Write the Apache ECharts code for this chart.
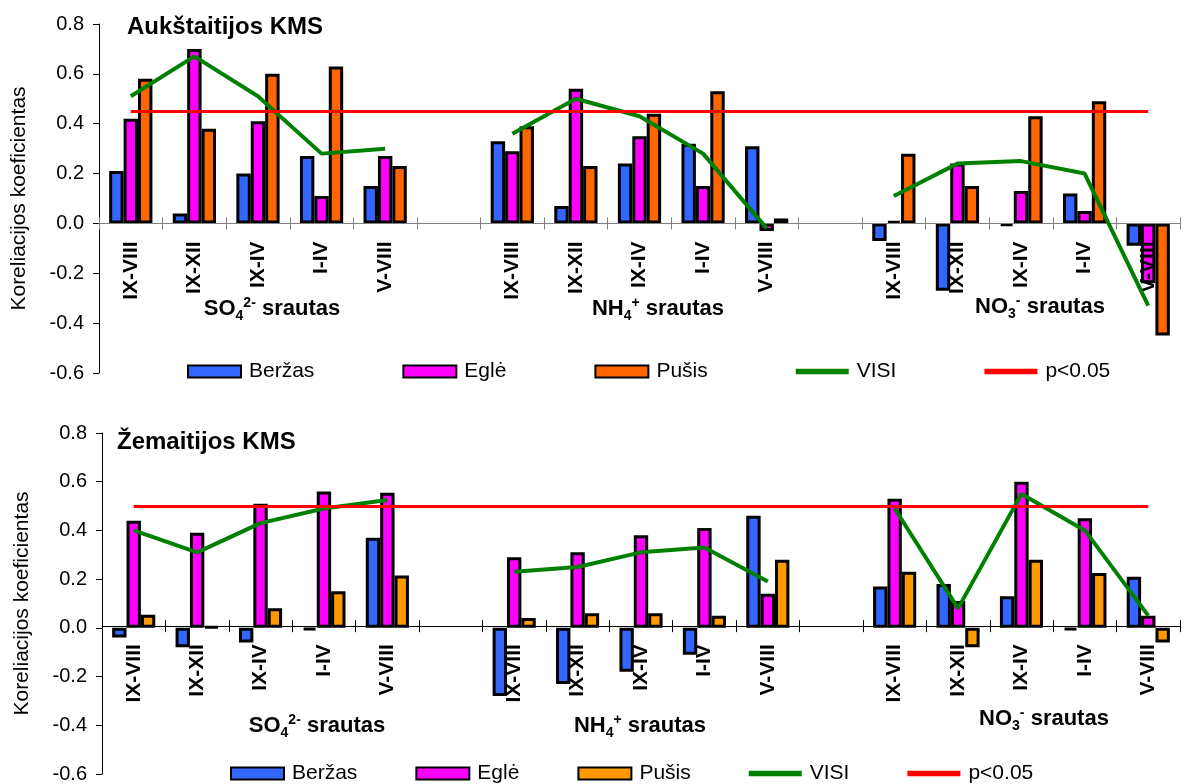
<!DOCTYPE html>
<html>
<head>
<meta charset="utf-8">
<script src="https://cdn.jsdelivr.net/npm/echarts@6/dist/echarts.min.js"></script>
<style>
html,body{margin:0;padding:0;background:#fff;}
#chart{width:1185px;height:784px;}
</style>
</head>
<body>
<div id="chart"></div>
<script>
// ---- data ----
const periods = ['IX-VIII', 'IX-XII', 'IX-IV', 'I-IV', 'V-VIII'];
const yTicks = [-0.6, -0.4, -0.2, 0.0, 0.2, 0.4, 0.6, 0.8];

// Aukštaitijos KMS (SO4 | NH4 | NO3), 5 periods each
const aukBerzas = [0.21, 0.04, 0.20, 0.27, 0.15,   0.33, 0.07, 0.24, 0.32, 0.31,   -0.07, -0.27, -0.01, 0.12, -0.09];
const aukEgle   = [0.42, 0.70, 0.41, 0.11, 0.27,   0.29, 0.54, 0.35, 0.15, -0.03,  0.01, 0.24, 0.13, 0.05, -0.24];
const aukPusis  = [0.58, 0.38, 0.60, 0.63, 0.23,   0.39, 0.23, 0.44, 0.53, 0.02,   0.28, 0.15, 0.43, 0.49, -0.45];
const aukVisi   = [0.51, 0.67, 0.51, 0.28, 0.30,   0.36, 0.50, 0.43, 0.28, -0.02,  0.11, 0.24, 0.25, 0.20, -0.33];
const aukP = 0.45;

// Žemaitijos KMS
const zemBerzas = [-0.04, -0.08, -0.06, -0.01, 0.37,  -0.28, -0.23, -0.18, -0.11, 0.46,  0.17, 0.18, 0.13, -0.01, 0.21];
const zemEgle   = [0.44, 0.39, 0.51, 0.56, 0.555,     0.29, 0.31, 0.38, 0.41, 0.14,      0.53, 0.11, 0.60, 0.45, 0.05];
const zemPusis  = [0.054, 0.005, 0.08, 0.15, 0.215,   0.04, 0.06, 0.06, 0.05, 0.28,      0.23, -0.08, 0.28, 0.225, -0.06];
const zemVisi   = [0.40, 0.31, 0.43, 0.49, 0.525,     0.23, 0.25, 0.31, 0.33, 0.19,      0.49, 0.08, 0.55, 0.40, 0.05];
const zemP = 0.50;

// ---- helpers: 3 groups of 5 with one empty slot between groups ----
function spread(arr) {
  return [...arr.slice(0, 5), null, ...arr.slice(5, 10), null, ...arr.slice(10, 15)];
}
const catLabels = [...periods, '', ...periods, ' ', ...periods];

const W = 1185, H = 784;
const FONT = 'Liberation Sans, Arial, sans-serif';
const colBerzas = '#3366FF', colEgle = '#FF00FF';
const colPusisTop = '#FF6600', colPusisBot = '#FF9900';
const colVisi = '#008000', colP = '#FF0000';

const grids = [
  { left: 99, right: 5, top: 24, bottom: 411 },
  { left: 102, right: 5, top: 433, bottom: 6 }
];
const yMin = yTicks[0], yMax = yTicks[yTicks.length - 1];
// distance (px) of the y=0 line above the grid bottom
function zeroOffset(g) {
  const h = H - g.top - g.bottom;
  return h * (0 - yMin) / (yMax - yMin);
}

function xAxesFor(gi, lineColor) {
  const off = -zeroOffset(grids[gi]);
  return [{
    gridIndex: gi, type: 'category', data: catLabels, position: 'bottom', offset: off, z: 3,
    axisLine: { onZero: false, lineStyle: { color: lineColor, width: 1 } },
    axisTick: { show: true, interval: 0, length: 6, lineStyle: { color: lineColor } },
    axisLabel: { interval: 0, rotate: 90, margin: 18, color: '#000', fontFamily: FONT,
                 fontWeight: 'bold', fontSize: 21 },
    splitLine: { show: false }
  }, {
    gridIndex: gi, type: 'category', data: catLabels, position: 'bottom', offset: off, z: 3,
    axisLine: { show: false, onZero: false },
    axisTick: { show: true, inside: true, interval: 0, length: 6, lineStyle: { color: lineColor } },
    axisLabel: { show: false }, splitLine: { show: false }
  }];
}
function yAxisFor(gi) {
  return {
    gridIndex: gi, type: 'value', min: yMin, max: yMax, interval: 0.2,
    name: 'Koreliacijos koeficientas', nameLocation: 'middle', nameGap: 69,
    nameTextStyle: { fontFamily: FONT, fontSize: 21, color: '#000' },
    axisLine: { show: true, lineStyle: { color: '#000', width: 1 } },
    axisTick: { show: true, length: 6, lineStyle: { color: '#000' } },
    axisLabel: { margin: 15, color: '#000', fontFamily: FONT, fontSize: 20,
                 formatter: v => v.toFixed(1) },
    splitLine: { show: false }
  };
}
function barSeries(name, data, color, xi, yi) {
  return {
    name, type: 'bar', xAxisIndex: xi, yAxisIndex: yi, data: spread(data),
    barGap: '0%', barCategoryGap: '32%', z: 2,
    itemStyle: { color, borderColor: '#000', borderWidth: 3 },
    emphasis: { disabled: true }
  };
}
function visiSeries(name, data, xi, yi) {
  return {
    name, type: 'line', xAxisIndex: xi, yAxisIndex: yi, data: spread(data), z: 4,
    symbol: 'none', showSymbol: false, connectNulls: false,
    itemStyle: { color: colVisi }, lineStyle: { color: colVisi, width: 4 },
    emphasis: { disabled: true }
  };
}
function pSeries(name, value, xi, yi) {
  return {
    name, type: 'line', xAxisIndex: xi, yAxisIndex: yi, data: [], z: 4,
    symbol: 'none', itemStyle: { color: colP }, lineStyle: { color: colP, width: 3 },
    markLine: {
      silent: true, symbol: ['none', 'none'], label: { show: false },
      lineStyle: { color: colP, width: 3, type: 'solid' },
      emphasis: { disabled: true },
      data: [[{ coord: [0, value] }, { coord: [catLabels.length - 1, value] }]]
    }
  };
}

const rich = {
  b: { fontFamily: FONT, fontWeight: 'bold', fontSize: 22, color: '#000', lineHeight: 32, verticalAlign: 'middle' },
  sub: { fontFamily: FONT, fontWeight: 'bold', fontSize: 14, color: '#000', lineHeight: 32, verticalAlign: 'bottom', padding: [0, 0, 2, 0] },
  sup: { fontFamily: FONT, fontWeight: 'bold', fontSize: 14, color: '#000', lineHeight: 32, verticalAlign: 'top', padding: [3, 0, 0, 0] }
};
function fluxText(ion, sub, sup, x, y) {
  return {
    type: 'text', x, y, z: 10,
    style: { text: `{b|${ion}}{sub|${sub}}{sup|${sup}}{b| srautas}`, rich, align: 'center', verticalAlign: 'middle' }
  };
}

const lineIcon = 'path://M0,0 L10,0 L10,1 L0,1 Z';
const legendCommon = {
  orient: 'horizontal', padding: 0, itemWidth: 53, itemHeight: 12, icon: 'rect',
  textStyle: { fontFamily: FONT, fontSize: 21, color: '#000', padding: [0, 0, 0, 3] },
  selectedMode: false
};

const option = {
  animation: false,
  backgroundColor: '#fff',
  textStyle: { fontFamily: FONT },
  title: [
    { text: 'Aukštaitijos KMS', left: 127, top: 15, padding: 0,
      textStyle: { fontFamily: FONT, fontWeight: 'bold', fontSize: 24, color: '#000' } },
    { text: 'Žemaitijos KMS', left: 117, top: 430, padding: 0,
      textStyle: { fontFamily: FONT, fontWeight: 'bold', fontSize: 24, color: '#000' } }
  ],
  grid: grids.map(g => Object.assign({ containLabel: false }, g)),
  xAxis: [...xAxesFor(0, '#808080'), ...xAxesFor(1, '#000')],
  yAxis: [yAxisFor(0), yAxisFor(1)],
  legend: [
    Object.assign({}, legendCommon, { left: 187, top: 361, itemGap: 88,
      data: [{ name: 'Beržas' }, { name: 'Eglė' }, { name: 'Pušis' },
             { name: 'VISI', icon: lineIcon }, { name: 'p<0.05', icon: lineIcon }] }),
    Object.assign({}, legendCommon, { left: 230, top: 763, itemGap: 58,
      formatter: n => n.trim(),
      data: [{ name: 'Beržas ' }, { name: 'Eglė ' }, { name: 'Pušis ' },
             { name: 'VISI ', icon: lineIcon }, { name: 'p<0.05 ', icon: lineIcon }] })
  ],
  series: [
    barSeries('Beržas', aukBerzas, colBerzas, 0, 0),
    barSeries('Eglė', aukEgle, colEgle, 0, 0),
    barSeries('Pušis', aukPusis, colPusisTop, 0, 0),
    visiSeries('VISI', aukVisi, 0, 0),
    pSeries('p<0.05', aukP, 0, 0),
    barSeries('Beržas ', zemBerzas, colBerzas, 2, 1),
    barSeries('Eglė ', zemEgle, colEgle, 2, 1),
    barSeries('Pušis ', zemPusis, colPusisBot, 2, 1),
    visiSeries('VISI ', zemVisi, 2, 1),
    pSeries('p<0.05 ', zemP, 2, 1)
  ],
  graphic: [
    fluxText('SO', '4', '2-', 272, 309),
    fluxText('NH', '4', '+', 658, 309),
    fluxText('NO', '3', '-', 1040, 307),
    fluxText('SO', '4', '2-', 317, 726),
    fluxText('NH', '4', '+', 640, 726),
    fluxText('NO', '3', '-', 1044, 719)
  ]
};

const chart = echarts.init(document.getElementById('chart'), null, { renderer: 'canvas' });
chart.setOption(option);
</script>
</body>
</html>
